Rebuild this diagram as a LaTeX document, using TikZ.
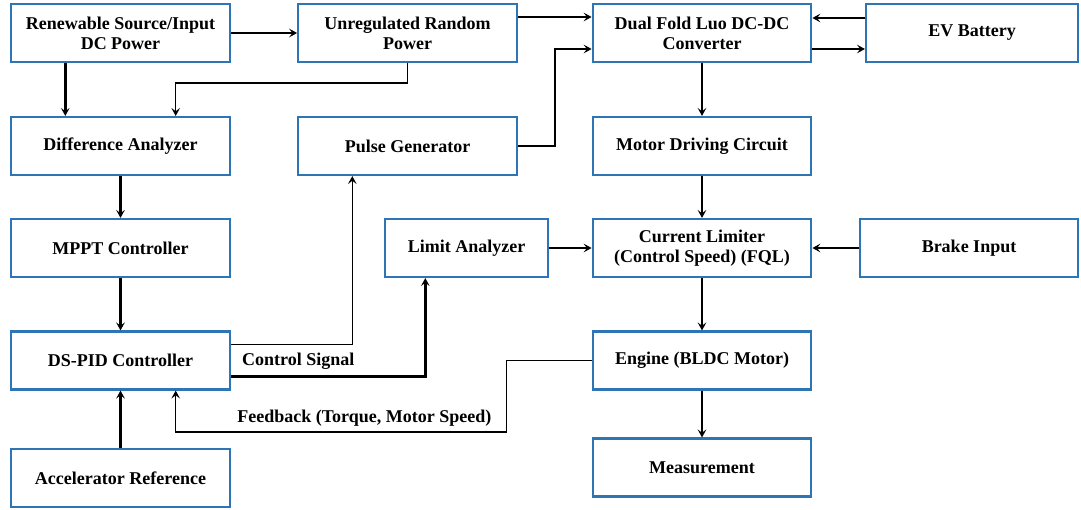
\documentclass[tikz,border=0pt]{standalone}
\usepackage{fontspec}
\setmainfont{Liberation Serif}
\usetikzlibrary{arrows.meta,calc}
\definecolor{boxblue}{RGB}{46,117,182}

\begin{document}
\begin{tikzpicture}[x=0.75pt,y=0.75pt,
					>={Stealth[length=6pt,width=6.5pt,inset=2.5pt]},
					line width=0.9pt,
					block/.style={rectangle,draw=boxblue,line width=1.6pt,
					              minimum width=164pt,minimum height=43.5pt,
					              inner sep=2pt,align=center,
					              font=\fontsize{13.5}{15}\selectfont\bfseries},
					lbl/.style={inner sep=0pt,font=\fontsize{13.5}{15}\selectfont\bfseries},
					heavy/.style={line width=1.8pt}]

  \useasboundingbox (0,0) rectangle (1081,-510);

  % left column
  \node[block] (ren)   at (120.5,-33)  {Renewable Source/Input\\DC Power};
  \node[block] (diff)  at (120.5,-146) {Difference Analyzer};
  \node[block] (mppt)  at (120.5,-248) {MPPT Controller};
  \node[block] (pid)   at (120.5,-360.5) {DS-PID Controller};
  \node[block] (accel) at (120.5,-478) {Accelerator Reference};

  % middle column
  \node[block] (unreg) at (407.5,-33)  {Unregulated Random\\Power};
  \node[block] (pulse) at (407.5,-146) {Pulse Generator};
  \node[block,minimum width=122pt] (limit) at (466.5,-248) {Limit Analyzer};

  % converter / motor chain
  \node[block] (luo)    at (702,-33)    {Dual Fold Luo DC-DC\\Converter};
  \node[block] (motor)  at (702,-146)   {Motor Driving Circuit};
  \node[block] (curlim) at (702,-248)   {Current Limiter\\(Control Speed) (FQL)};
  \node[block] (engine) at (702,-360.5) {Engine (BLDC Motor)};
  \node[block] (meas)   at (702,-467.5) {Measurement};

  % right column
  \node[block,minimum width=159pt] (ev)    at (972,-33)  {EV Battery};
  \node[block,minimum width=163pt] (brake) at (969,-248) {Brake Input};

  \path[->]
    (ren) edge (unreg)
    (luo) edge (motor)
    (motor) edge (curlim)
    (curlim) edge (engine)
    (engine) edge (meas)
    (diff) edge[heavy] (mppt)
    (mppt) edge[heavy] (pid)
    (accel) edge[heavy] (pid)
    (limit) edge[heavy] (curlim)
    (brake) edge[heavy] (curlim);

  \draw[->,heavy] ($(ren.south west)!.25!(ren.south east)$) -- ($(diff.north west)!.25!(diff.north east)$);
  \draw[->] (unreg.south) -- ++(0,-20) -| ($(diff.north west)!.75!(diff.north east)$);

  % converter inputs and battery link
  \draw[->] ($(unreg.east)+(0,16)$) -- ($(luo.west)+(0,16)$);
  \draw[->] (pulse.east) -- ++(37,0) |- ($(luo.west)+(0,-16)$);
  \draw[->] ($(ev.west)+(0,15)$) -- ($(luo.east)+(0,15)$);
  \draw[->,heavy] ($(luo.east)+(0,-16)$) -- ($(ev.west)+(0,-16)$);

  % controller outputs
  \draw[->] ($(pid.east)+(0,16)$) -| ($(pulse.south west)!.25!(pulse.south east)$);
  \draw[->,heavy] ($(pid.east)+(0,-16)$)
      node[lbl,anchor=south west,xshift=7.5pt,yshift=4pt] {Control Signal}
      -| ($(limit.south west)!.25!(limit.south east)$);

  % feedback loop
  \draw[->] (engine.west) -| ++(-85,-71.5)
      node[lbl,anchor=south east,xshift=-11pt,yshift=4pt] {Feedback (Torque, Motor Speed)}
      -| ($(pid.south west)!.75!(pid.south east)$);
\end{tikzpicture}
\end{document}
